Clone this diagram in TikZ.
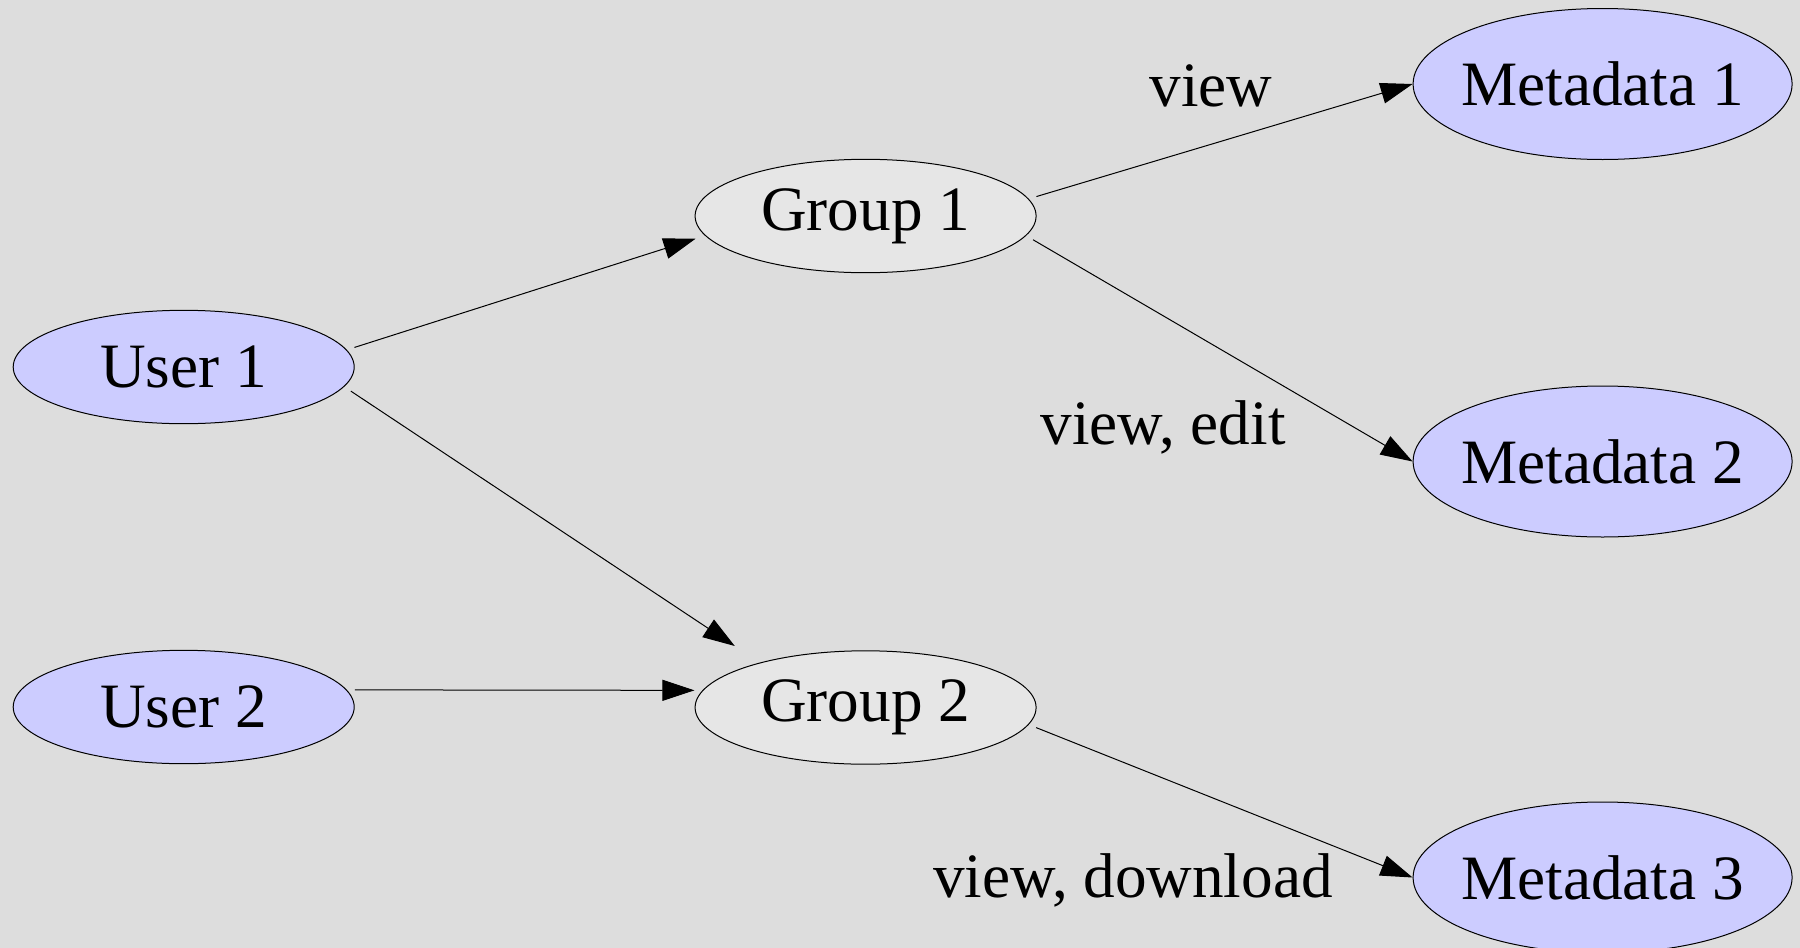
\documentclass[tikz,border=0pt]{standalone}
\usepackage{fontspec}
\setmainfont{Liberation Serif}
\usepackage{tikz}
\usepackage{xcolor}
\usetikzlibrary{
    arrows.meta,
    shapes.geometric,
    positioning
}
\definecolor{bggray}{HTML}{DDDDDD}
\definecolor{lavender}{HTML}{CCCCFF}
\definecolor{grpgray}{HTML}{E6E6E6}
\newcommand{\nowide}[1]{\makebox[0pt]{#1}}
\tikzset{usr/.style={ellipse, draw=black, fill=lavender, inner sep=0pt, minimum width=170.5pt, minimum height=56.7pt}}
\tikzset{grp/.style={ellipse, draw=black, fill=grpgray, inner sep=0pt, minimum width=170.5pt, minimum height=56.7pt}}
\tikzset{meta/.style={ellipse, draw=black, fill=lavender, inner sep=0pt, minimum width=189.5pt, minimum height=75.5pt}}
\tikzset{perm/.style={inner sep=0pt}}
\tikzset{acc/.style={line width=0.5pt, shorten <=4pt, -{Triangle[length=16pt, width=10.5pt]}}}

\begin{document}
\begin{tikzpicture}[x=0.5pt, y=-0.5pt, line width=0.5pt, font=\fontsize{31.6}{38}\selectfont]
    % page frame, the last ellipse runs past the bottom edge
    \clip (0, 0) rectangle (1800, 948);
    \fill[bggray] (0, 0) rectangle (1800, 948);

    \node[usr] (u1) at (183.7, 367) {\nowide{User 1}};
    \node[usr] (u2) at (183.7, 707) {\nowide{User 2}};
    \node[grp] (g1) at (865.6, 216) {\nowide{Group 1}};
    \node[grp] (g2) at (865.6, 707.5) {\nowide{Group 2}};
    \node[meta] (m1) at (1602.6, 84) {\nowide{Metadata 1}};
    \node[meta] (m2) at (1602.6, 461.5) {\nowide{Metadata 2}};
    \node[meta] (m3) at (1602.6, 877.5) {\nowide{Metadata 3}};

    \node[perm] (l1) at (1211, 86) {view};
    \node[perm] (l2) at (1163, 427) {view, edit};
    \node[perm] (l3) at (1133, 880) {view, download};

    \draw
    (u1.6) edge[acc, shorten >=5pt] (g1.187)
    (u1.353) edge[acc, shorten >=15pt] (g2.157.6)
    (u2.6) edge[acc, shorten >=4pt] (g2.174)
    (g1.6.6) edge[acc] (m1.180)
    (g1.353.5) edge[acc] (m2.180)
    (g2.354) edge[acc] (m3.180);
\end{tikzpicture}
\end{document}
